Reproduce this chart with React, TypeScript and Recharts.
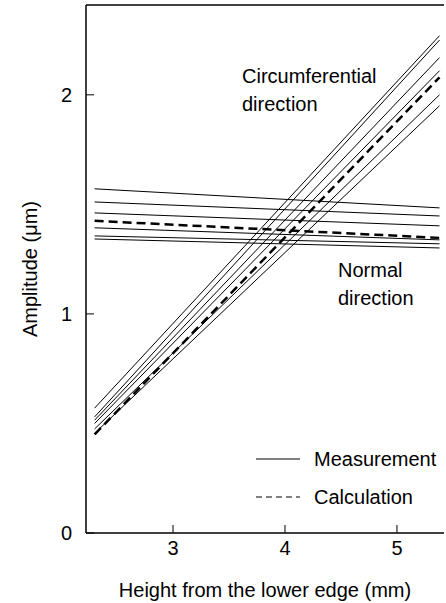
import { LineChart, Line, XAxis, YAxis, ReferenceLine } from 'recharts';

// x extent of every line (mm)
const lineX = [2.3, 5.38];

// circumferential direction: [amplitude at left, amplitude at right]
const circMeasured = [
  [0.57, 2.27],
  [0.53, 2.25],
  [0.515, 2.17],
  [0.5, 2.11],
  [0.475, 2.0],
  [0.455, 1.95],
];
const circCalculated = [0.45, 2.08];

// normal direction
const normMeasured = [
  [1.571, 1.484],
  [1.511, 1.447],
  [1.461, 1.402],
  [1.393, 1.338],
  [1.356, 1.32],
  [1.342, 1.301],
];
const normCalculated = [1.425, 1.347];

const xTicks = [3, 4, 5];
const yTicks = [0, 1, 2];

const FONT = '"Liberation Sans", Arial, Helvetica, sans-serif';

const toPoints = (ys: number[]) => lineX.map((x, i) => ({ x, y: ys[i] }));

const YTitle = (props: any) => {
  const vb = props.viewBox || { y: 5, height: 528 };
  const cy = vb.y + vb.height / 2;
  return (
    <text x={30} y={cy} transform={`rotate(-90, 30, ${cy})`} textAnchor="middle" dominantBaseline="central"
      fontFamily={FONT} fontSize={20} fill="#000">
      Amplitude (μm)
    </text>
  );
};

const XTitle = (props: any) => {
  const vb = props.viewBox || { x: 86, width: 358 };
  return (
    <text x={vb.x + vb.width / 2} y={590} textAnchor="middle" dominantBaseline="central"
      fontFamily={FONT} fontSize={20} fill="#000">
      Height from the lower edge (mm)
    </text>
  );
};

export default function App() {
  return (
    <div style={{ position: 'absolute', left: 0, top: 0, width: 446, height: 603, background: '#fff' }}>
      <LineChart width={446} height={603} margin={{ top: 5, right: 2, left: 0, bottom: 0 }}>
        <XAxis
          type="number"
          dataKey="x"
          domain={[2.223, 5.42]}
          ticks={xTicks}
          allowDataOverflow
          height={70}
          stroke="#000"
          axisLine={{ strokeWidth: 1.5 }}
          tickSize={-8}
          tickMargin={16}
          tick={{ fontSize: 20, fill: '#000', fontFamily: FONT }}
          label={<XTitle />}
        />
        <YAxis
          type="number"
          dataKey="y"
          domain={[0, 2.41]}
          ticks={yTicks}
          allowDataOverflow
          width={86}
          stroke="#000"
          axisLine={{ strokeWidth: 1.5 }}
          tickSize={-8}
          tickMargin={22}
          tick={{ fontSize: 20, fill: '#000', fontFamily: FONT }}
          label={<YTitle />}
        />
        <ReferenceLine y={2.41} stroke="#000" strokeWidth={1.5} />
        {circMeasured.map((ys, i) => (
          <Line key={`c${i}`} data={toPoints(ys)} dataKey="y" stroke="#000" strokeWidth={1}
            dot={false} isAnimationActive={false} />
        ))}
        <Line data={toPoints(circCalculated)} dataKey="y" stroke="#000" strokeWidth={2.5}
          strokeDasharray="9 5" dot={false} isAnimationActive={false} />
        {normMeasured.map((ys, i) => (
          <Line key={`n${i}`} data={toPoints(ys)} dataKey="y" stroke="#000" strokeWidth={1}
            dot={false} isAnimationActive={false} />
        ))}
        <Line data={toPoints(normCalculated)} dataKey="y" stroke="#000" strokeWidth={2.5}
          strokeDasharray="9 5" dot={false} isAnimationActive={false} />
      </LineChart>
      <div style={{ position: 'absolute', left: 242, top: 62, fontFamily: FONT, fontSize: 20, lineHeight: '28px', color: '#000' }}>
        Circumferential<br />direction
      </div>
      <div style={{ position: 'absolute', left: 338, top: 256, fontFamily: FONT, fontSize: 20, lineHeight: '28px', color: '#000' }}>
        Normal<br />direction
      </div>
      <div style={{ position: 'absolute', left: 256, top: 440, fontFamily: FONT, fontSize: 20, color: '#000' }}>
        <div style={{ display: 'flex', alignItems: 'center', height: 38 }}>
          <svg width={58} height={10}>
            <line x1={0} y1={5} x2={44} y2={5} stroke="#000" strokeWidth={1.2} />
          </svg>
          <span>Measurement</span>
        </div>
        <div style={{ display: 'flex', alignItems: 'center', height: 38 }}>
          <svg width={58} height={10}>
            <line x1={0} y1={5} x2={44} y2={5} stroke="#000" strokeWidth={1.2} strokeDasharray="6 4" />
          </svg>
          <span>Calculation</span>
        </div>
      </div>
    </div>
  );
}
